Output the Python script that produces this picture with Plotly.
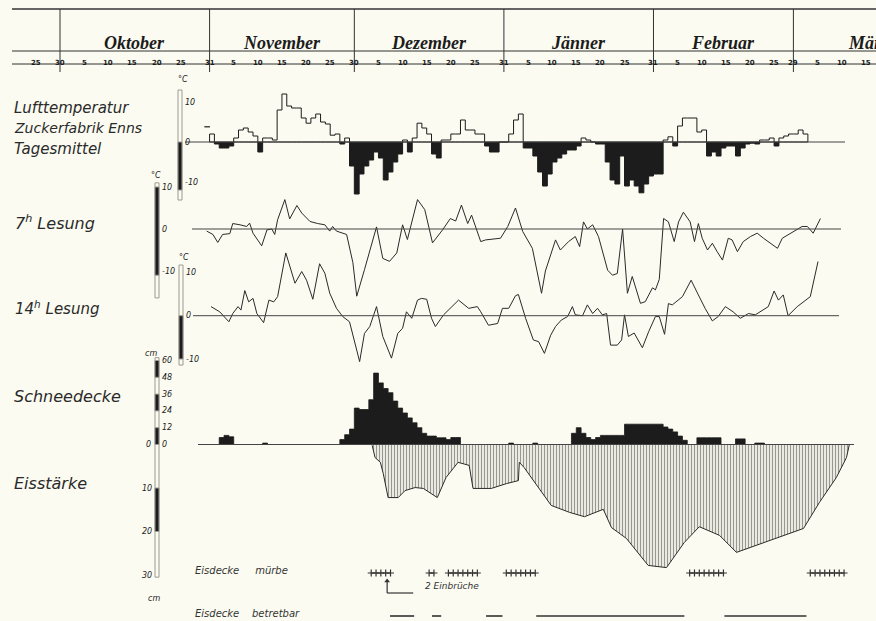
import plotly.graph_objects as go

W, H = 876, 621
BG = "#fbfbf1"
INK = "#1c1c1c"
GREY = "#9a9a92"

# ---------------- data ----------------
# time axis: day index, 1 Oct = day 1 (occupies [0, 1])
months = ["Oktober", "November", "Dezember", "Jänner", "Februar", "März"]
month_days = [31, 30, 31, 31, 29, 31]
sept_tick_days = [-5, 0]
sept_tick_labels = ["25", "30"]

# Lufttemperatur Tagesmittel (°C), daily from 1 Nov
tm_oct31 = 3.8
tm_first_day = 32
tm_nov = [2, -0.5, -1.5, -1.5, -1, 1, 3, 3.5, 2.5, 1.5, -2.5, 1, 1, 0.5, 8, 12, 9, 8.5, 8.5, 6,
          4.7, 6, 7, 5, 4.5, 1.7, 2, -0.5, 1, -6]
tm_dec = [-13, -8, -6, -4.5, -2.5, -4, -9.5, -7.5, -5, -3, 0.5, -2.5, 1, 4.7, 3.5, 2, -3, -4, 0.5, 0.5,
          2, 2, 5.5, 3, 3, 2, 2, -1, -2.5, -2.5, 0]
tm_jan = [0, 2, 5.5, 7, -1.5, -1.5, -3.5, -7.5, -11, -8, -5, -4, -3, -2, -2, -1, 1, 0.5, 0, -0.5,
          -0.5, -5, -9.5, -10.5, -3.5, -11, -9.5, -11, -12.7, -10.5, -8.5]
tm_feb = [-8, -8, 0.5, 1.3, -1, 4, 6, 6, 6, 2.5, 3, -3.5, -2.5, -3.5, -1.5, -1, -1, -3.5, -1.5, -0.5,
          -0.3, -0.5, 0.5, 0.5, 1, -1, 1, 1.5, 2]
tm_mar = [2, 3, 2]

# 7h Lesung (°C)
h7_day = [30.4, 31.7, 32.7, 33.7, 35.2, 35.8, 37.3, 38.7, 39.3, 40.0, 41.8, 42.9, 43.9, 44.5, 45.1,
          46.6, 47.6, 49.1, 50.1, 51.8, 53.4, 54.9, 55.9, 56.5, 57.3, 59.4, 60.7, 61.5, 63.1, 65.6,
          66.9, 68.3, 69.8, 71.0, 72.0, 74.1, 75.6, 77.2, 79.3, 80.9, 82.0, 83.2, 84.5, 85.3, 87.2,
          88.2, 91.3, 92.8, 94.4, 95.9, 97.9, 99.8, 100.6, 102.7, 103.7, 105.4, 106.8, 107.7, 108.5,
          109.3, 110.4, 111.6, 113.5, 114.5, 115.5, 116.6, 117.6, 118.6, 120.3, 121.3, 122.8, 123.4,
          124.2, 125.1, 126.1, 127.3, 128.2, 129.2, 130.6, 131.5, 132.3, 133.1, 134.2, 135.2, 136.2,
          137.3, 138.5, 139.3, 140.4, 141.6, 143.1, 144.5, 145.8, 147.2, 148.7, 149.7, 150.9, 152.4,
          153.8, 154.9, 156.1, 157.6]
h7_val = [-0.5, -1.3, -3.2, -1.3, -1.1, 1.3, 1, 0.6, 1.4, -1, -4, -0.2, 0, -1.3, 2.2,
          7, 2.4, 5.6, 3.8, 1.8, 1.3, 1, -0.5, 0.6, -0.5, -1.3, -8, -16, -9.7, 0.5,
          -7, -7.7, -5.7, 1, -2.5, 7, 4.6, -3.3, -0.2, 2.5, 1.9, 5.7, 1.3, 3.3, -3,
          -2.6, -2.2, 0.6, 5, -0.6, -4.6, -15.3, -10, -2.6, -5, -3, -1.8, -4.2, 1.7,
          0, 1, -1.8, -9.8, -11, -10.6, 0, -15.3, -11.3, -17.7, -17.3, -14, -14.5,
          -12, 2.5, 1.7, -3, 1.7, 4, 1.7, -3, 1.3, -2.2, -5, -3.4, -5.4,
          -7.4, -2.2, -2.6, -5.4, -3, -1.8, -1, -2.2, -3.4, -4.6, -2.2, -1.4, -0.2,
          0.6, 0.6, -1, 2.5]

# 14h Lesung (°C)
h14_day = [31.3, 33.1, 35.0, 35.8, 36.9, 37.5, 38.3, 39.1, 40.0, 40.8, 42.2, 43.3, 44.3, 45.1, 46.8,
           47.6, 48.7, 50.1, 51.1, 52.4, 53.8, 54.9, 55.9, 57.3, 58.6, 60.0, 61.1, 62.1, 63.1, 64.2,
           65.6, 66.9, 68.7, 70.0, 71.0, 71.8, 72.9, 74.1, 74.9, 76.0, 77.0, 77.8, 79.5, 80.9, 82.6,
           84.7, 86.5, 87.2, 88.8, 90.7, 91.7, 93.0, 94.4, 95.0, 96.5, 98.1, 99.2, 100.4, 101.7,
           102.7, 103.9, 105.2, 106.2, 106.8, 108.3, 109.3, 110.4, 111.4, 112.4, 113.3, 114.1,
           115.5, 116.4, 117.0, 117.8, 119.0, 120.7, 122.0, 123.4, 124.2, 125.3, 126.1, 126.9,
           129.0, 130.8, 132.3, 133.7, 135.2, 136.4, 137.9, 139.5, 141.0, 142.7, 144.1, 145.8,
           146.8, 148.0, 148.9, 149.9, 150.9, 152.8, 154.5, 155.5, 157.1]
h14_val = [2.1, 0.9, -1.4, 0.5, 2.1, 1.3, 5.8, 3.2, 4, 0.5, -1.6, 3.6, 3.2, 4.4, 14.5,
           11.3, 7.5, 10.2, 8.2, 3.8, 12, 9.8, 5.2, 1.7, -0.2, -1.4, -6.4, -10.6, -4.1, -2.5,
           2.1, -4.8, -9.8, -4.1, -2.9, 0.9, -0.6, 3.6, 4, 3.8, -0.6, -2.5, 0.2, 1.7, 3.6,
           1.7, 2.1, 0.9, -2.2, -1.8, 1.7, 1.7, 4.6, 4.9, -0.6, -5.6, -6, -8.7, -4.5,
           -2.5, -1, -0.2, 2.1, 0.2, 0, 2.5, 0.5, 1.7, 0.2, 0.5, -6.8,
           -6.8, -5.6, 0.2, -4.8, -4, -7.4, -3.7, -0.2, -0.2, -4.3, 2.8, 2.5,
           4.4, 8.2, 4.8, 1.7, -1.2, -0.2, 2.1, 0.9, -0.6, 0.5, 0.2, 1.3,
           2.1, 5.7, 3.6, 4.8, 0, 2.1, 3.6, 4.4, 12.5]

# Schneedecke (cm), daily from 1 Nov
snow_first_day = 32
snow_nov = [0, 0, 5, 6.5, 5.5, 0, 0, 0, 0, 0, 0, 1, 0, 0, 0, 0, 0, 0, 0, 0,
            0, 0, 0, 0, 0, 0, 0, 3.5, 7, 11]
snow_dec = [26, 25, 25, 32, 51, 44, 40, 37, 31, 26, 22.5, 19, 15.5, 12, 8, 6, 6, 4.8, 4.8, 3.5,
            5, 5, 0, 0, 0, 0, 0, 0, 0, 0, 0]
snow_jan = [0, 1, 0, 0, 0, 0, 1, 0, 0, 0, 0, 0, 0, 0, 8, 12, 8, 5, 3.5, 5,
            6.5, 6.5, 6.5, 6.5, 6.5, 14.5, 14.5, 14.5, 14.5, 14.5, 14.5]
snow_feb = [14.5, 14.5, 12.5, 11, 9, 6, 3, 0, 0, 4.8, 4.8, 4.8, 4.8, 4.8, 0, 0, 0, 4, 4, 0,
            0, 1, 1, 0, 0, 0, 0, 0, 0]

# Eisstärke (cm)
ice_day = [64.7, 65.3, 66.4, 67.0, 68.0, 70.1, 71.5, 73.6, 75.3, 77.1, 78.2, 80.0, 82.5, 84.8,
           85.6, 89.4, 92.5, 95.0, 95.2, 96.2, 98.1, 100.2, 101.8, 105.6, 108.7, 112.6, 114.3,
           117.4, 121.9, 125.7, 129.4, 132.5, 136.7, 140.2, 147.0, 154.1, 157.4, 160.9, 163.0, 163.6]
ice_cm = [0.2, 3, 4.1, 6.7, 12.2, 12.2, 10.6, 9.9, 10.1, 11.3, 12.2, 7.6, 4.1, 4.8,
          10.1, 10.1, 9, 8.3, 4.1, 5.3, 8.3, 11.7, 14, 15.6, 16.6, 14.9, 19.1,
          21.6, 27.8, 28.3, 22.5, 18.9, 20.9, 24.8, 22.1, 19.3, 13.3, 7.6, 3, 0]

# Eisdecke mürbe (days) and Eisdecke betretbar (periods)
muerbe_days = [65, 66, 67, 68, 69, 77, 78, 81, 82, 83, 84, 85, 86, 87, 93, 94, 95, 96, 97, 98, 99,
               131, 132, 133, 134, 135, 136, 137, 138, 156, 157, 158, 159, 160, 161, 162, 163]
betretbar_start = [68.4, 77.1, 88.3, 98.7, 137.7]
betretbar_end = [73.4, 79.0, 91.7, 129.4, 154.7]
einbruch_day = 67.8
einbruch_text = "2 Einbrüche"

# ---------------- geometry ----------------
PX0, PPD = 60.0, 4.825          # pixel of day 0, pixels per day
X_RANGE = [-PX0 / PPD, (W - PX0) / PPD]


def day_of_px(px):
    return (px - PX0) / PPD


def yaxis_spec(zero_px, ppu, top_px, bot_px, down=False):
    dom = [1 - bot_px / H, 1 - top_px / H]
    if down:
        rng = [(bot_px - zero_px) / ppu, (top_px - zero_px) / ppu]
    else:
        rng = [(zero_px - bot_px) / ppu, (zero_px - top_px) / ppu]
    return dict(domain=dom, range=rng, visible=False, anchor="x", fixedrange=True,
                showgrid=False, zeroline=False)


def py(px):
    return 1 - px / H


def pxp(px):
    return px / W


def step_xy(first_day, vals, clip):
    xs = [first_day - 1] + [first_day - 1 + i for i in range(len(vals))] + [first_day - 1 + len(vals)]
    ys = [0] + [clip(v) for v in vals] + [0]
    return xs, ys


fig = go.Figure()

# --- Lufttemperatur Tagesmittel ---
tm_all = tm_nov + tm_dec + tm_jan + tm_feb + tm_mar
xn, yn = step_xy(tm_first_day, tm_all, lambda v: min(v, 0))
fig.add_trace(go.Scatter(x=xn, y=yn, mode="lines", line=dict(color=INK, width=1, shape="hv"),
                         fill="tozeroy", fillcolor=INK, xaxis="x", yaxis="y"))
xp, yp = step_xy(tm_first_day, tm_all, lambda v: max(v, 0))
fig.add_trace(go.Scatter(x=xp, y=yp, mode="lines", line=dict(color=INK, width=1, shape="hv"),
                         xaxis="x", yaxis="y"))
fig.add_trace(go.Scatter(x=[tm_first_day - 1.5], y=[tm_oct31], mode="markers",
                         marker=dict(symbol="line-ew", size=4, line=dict(color=INK, width=1.2)),
                         xaxis="x", yaxis="y"))

# --- 7h / 14h ---
fig.add_trace(go.Scatter(x=h7_day, y=h7_val, mode="lines", line=dict(color="#2a2a2a", width=1),
                         xaxis="x", yaxis="y2"))
fig.add_trace(go.Scatter(x=h14_day, y=h14_val, mode="lines", line=dict(color="#2a2a2a", width=1),
                         xaxis="x", yaxis="y3"))

# --- Schneedecke ---
snow_all = snow_nov + snow_dec + snow_jan + snow_feb
xs_, ys_ = step_xy(snow_first_day, snow_all, lambda v: v)
fig.add_trace(go.Scatter(x=xs_, y=ys_, mode="lines", line=dict(color=INK, width=0.8, shape="hv"),
                         fill="tozeroy", fillcolor=INK, xaxis="x", yaxis="y4"))

# --- Eisstärke ---
fig.add_trace(go.Scatter(x=ice_day, y=ice_cm, mode="lines", line=dict(color="#2a2a2a", width=1),
                         fill="tozeroy", fillcolor=BG,
                         fillpattern=dict(shape="|", size=3, solidity=0.45, fgcolor="#333", bgcolor=BG),
                         xaxis="x", yaxis="y5"))

# --- Eisdecke mürbe / betretbar ---
mx, my = [], []
prev = None
for d in muerbe_days:
    if prev is not None and d != prev + 1:
        mx.append(None)
        my.append(None)
    mx.append(d - 0.5)
    my.append(1)
    prev = d
fig.add_trace(go.Scatter(x=mx, y=my, mode="lines+markers", line=dict(color="#333", width=1),
                         marker=dict(symbol="cross-thin", size=5, line=dict(color="#333", width=1.2)),
                         xaxis="x", yaxis="y6"))
bx, by = [], []
for s, e in zip(betretbar_start, betretbar_end):
    bx += [s, e, None]
    by += [0, 0, None]
fig.add_trace(go.Scatter(x=bx, y=by, mode="lines", line=dict(color="#333", width=1.6),
                         xaxis="x", yaxis="y6"))

# Einbrüche marker (arrow head)
arrow_top = (616 - 581) / 43
arrow_bot = (616 - 593) / 43
fig.add_trace(go.Scatter(x=[einbruch_day], y=[arrow_top], mode="markers",
                         marker=dict(symbol="triangle-up", size=5, color="#333"),
                         xaxis="x", yaxis="y6"))

shapes = []
annotations = []

# --- header ---
for ypx, wdt in [(9, 1.4), (51, 1), (64, 1)]:
    shapes.append(dict(type="line", xref="paper", yref="paper", x0=pxp(12), x1=1, y0=py(ypx), y1=py(ypx),
                       line=dict(color="#333", width=wdt)))
cum = 0
tick_days = list(sept_tick_days)
tick_labels = list(sept_tick_labels)
for name, n in zip(months, month_days):
    shapes.append(dict(type="line", xref="x", yref="paper", x0=cum, x1=cum, y0=py(9), y1=py(72),
                       line=dict(color="#333", width=1)))
    annotations.append(dict(x=cum + n / 2, y=py(31), xref="x", yref="paper", text=name, showarrow=False,
                            font=dict(family="Liberation Serif", size=18, color=INK, style="italic",
                                      weight="bold")))
    for d in [5, 10, 15, 20, 25]:
        if cum + d < X_RANGE[1] - 1:
            tick_days.append(cum + d)
            tick_labels.append(str(d))
    if cum + n < X_RANGE[1] - 1:
        tick_days.append(cum + n)
        tick_labels.append(str(n))
    cum += n
for d, t in zip(tick_days, tick_labels):
    annotations.append(dict(x=d, y=py(57.5), xref="x", yref="paper", text=t, showarrow=False,
                            font=dict(family="DejaVu Sans", size=7, color=INK, weight="bold")))

# --- zero lines ---
for yref, a, b in [("y", 185, 845), ("y2", 192, 841), ("y3", 193, 839), ("y4", 198, 854)]:
    shapes.append(dict(type="line", xref="x", yref=yref, x0=day_of_px(a), x1=day_of_px(b), y0=0, y1=0,
                       line=dict(color="#444", width=1)))

# Einbrüche arrow lines
shapes.append(dict(type="line", xref="x", yref="y6", x0=einbruch_day, x1=einbruch_day,
                   y0=arrow_bot, y1=arrow_top, line=dict(color="#333", width=1.2)))
shapes.append(dict(type="line", xref="x", yref="y6", x0=einbruch_day, x1=einbruch_day + 5.4,
                   y0=arrow_bot, y1=arrow_bot, line=dict(color="#333", width=1.2)))


# --- axis bars ---
def bar(xpx, yref, v0, v1, dark):
    shapes.append(dict(type="rect", xref="paper", yref=yref, x0=pxp(xpx - 2), x1=pxp(xpx + 2), y0=v0, y1=v1,
                       line=dict(color=GREY, width=1),
                       fillcolor=INK if dark else "rgba(0,0,0,0)"))


bar(180, "y", -14.5, 13, False)
bar(180, "y", -12, 0, True)
bar(157, "y2", -16.4, 11, False)
bar(157, "y2", -11, 10, True)
bar(181, "y3", -11.4, 11.7, False)
bar(181, "y3", -10, 0, True)
bar(157, "y4", 0, 62, False)
for lo, hi in [(48, 60), (24, 36), (0, 12)]:
    bar(157, "y4", lo, hi, True)
bar(157, "y5", 0, 30.5, False)
bar(157, "y5", 10, 20, True)

lab_font = dict(family="DejaVu Sans", size=8, color=INK, style="italic")


def lab(text, xpx, yref, val, anchor="left"):
    annotations.append(dict(x=pxp(xpx), y=val, xref="paper", yref=yref, text=text, showarrow=False,
                            xanchor=anchor, font=lab_font))


for t, v in [("10", 10), ("0", 0), ("-10", -10)]:
    lab(t, 183, "y", v)
    lab(t, 160, "y2", v)
    lab(t, 184, "y3", v)
for v in [60, 48, 36, 24, 12, 0]:
    lab(str(v), 160, "y4", v)
lab("0", 153, "y4", 0, "right")
for v in [10, 20, 30]:
    lab(str(v), 154, "y5", v, "right")


def ptxt(text, xpx, ypx, font, anchor="left"):
    annotations.append(dict(x=pxp(xpx), y=py(ypx), xref="paper", yref="paper", text=text, showarrow=False,
                            xanchor=anchor, yanchor="middle", font=font))


ptxt("°C", 176, 79, lab_font)
ptxt("°C", 149, 176, lab_font)
ptxt("°C", 177, 257, lab_font)
ptxt("cm", 143, 353, lab_font)
ptxt("cm", 146, 598, lab_font)

big = dict(family="DejaVu Sans", size=15, color="#2a2a2a", style="italic")
ptxt("Lufttemperatur", 12, 108, big)
ptxt("Zuckerfabrik Enns", 12, 128, dict(big, size=14))
ptxt("Tagesmittel", 12, 149, big)
ptxt("7<sup>h</sup> Lesung", 13, 222, dict(big, size=16))
ptxt("14<sup>h</sup> Lesung", 13, 308, big)
ptxt("Schneedecke", 12, 397, dict(big, size=16))
ptxt("Eisstärke", 12, 483, dict(big, size=16))

small = dict(family="DejaVu Sans", size=10, color="#333", style="italic")
ptxt("Eisdecke     mürbe", 193, 570, small)
ptxt("Eisdecke    betretbar", 193, 613, small)
annotations.append(dict(x=einbruch_day + 7.4, y=(616 - 586) / 43, xref="x", yref="y6", text=einbruch_text,
                        showarrow=False, xanchor="left", font=dict(small, size=9)))

fig.update_layout(
    width=W, height=H, margin=dict(l=0, r=0, t=0, b=0),
    paper_bgcolor=BG, plot_bgcolor="rgba(0,0,0,0)", showlegend=False, hovermode=False,
    xaxis=dict(domain=[0, 1], range=X_RANGE, visible=False, anchor="y", fixedrange=True),
    yaxis=yaxis_spec(142, 4.0, 70, 215),
    yaxis2=yaxis_spec(229, 4.2, 170, 320),
    yaxis3=yaxis_spec(315.7, 4.33, 250, 380),
    yaxis4=yaxis_spec(444.5, 1.4, 340, 460),
    yaxis5=yaxis_spec(444.5, 4.35, 440, 600, down=True),
    yaxis6=yaxis_spec(616, 43, 550, 621),
    shapes=shapes, annotations=annotations,
)

fig.write_html("out.html", config={"displayModeBar": False, "staticPlot": True},
               post_script="document.body.style.margin='0';document.body.style.background='%s';" % BG)
